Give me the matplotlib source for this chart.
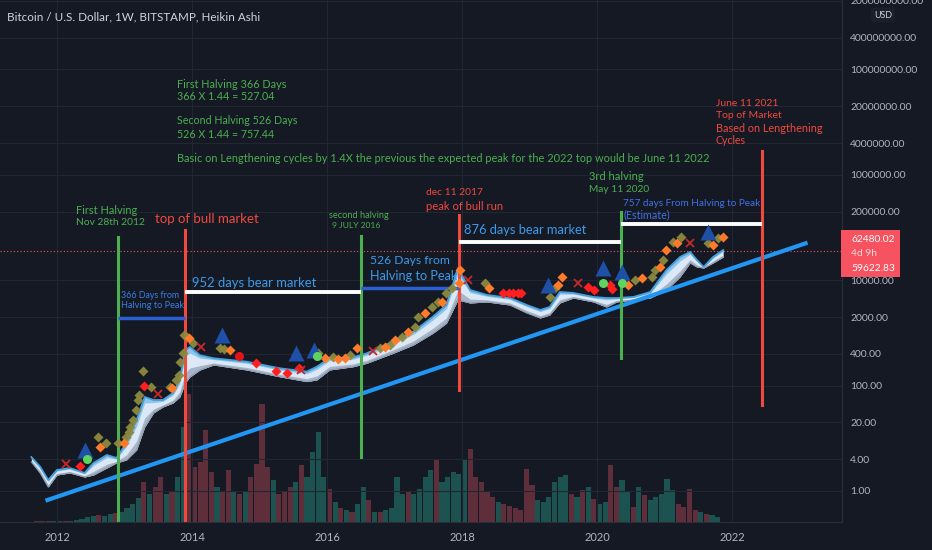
import matplotlib
matplotlib.use('Agg')
import matplotlib.pyplot as plt
import matplotlib.font_manager as fm
from matplotlib.patches import Rectangle
import numpy as np

_names = {f.name for f in fm.fontManager.ttflist}
FONT = 'Liberation Sans Narrow' if 'Liberation Sans Narrow' in _names else 'Lato'
plt.rcParams['font.family'] = [FONT, 'DejaVu Sans']

# ---------------- data ----------------
years_band = [2011.62, 2011.75, 2011.87, 2012.00, 2012.19, 2012.41, 2012.54, 2012.74, 2012.88, 2013.03,
              2013.18, 2013.30, 2013.43, 2013.57, 2013.72, 2013.82, 2013.90, 2013.97, 2014.12, 2014.32,
              2014.81, 2015.30, 2015.70, 2015.85, 2016.04, 2016.39, 2016.59, 2016.98, 2017.28, 2017.57,
              2017.77, 2017.94, 2018.12, 2018.37, 2018.71, 2018.96, 2019.16, 2019.30, 2019.45, 2019.65,
              2019.95, 2020.14, 2020.29, 2020.54, 2020.79, 2021.03, 2021.23, 2021.38, 2021.48, 2021.58,
              2021.72, 2021.87]
price_top = [4.42, 2.89, 1.62, 2.50, 2.73, 2.20, 3.40, 4.82, 4.23, 8.14,
             22.2, 60.8, 53.3, 53.3, 72.4, 128, 474, 540, 376, 330,
             284, 213, 184, 228, 330, 344, 410, 681, 1054, 2030,
             3380, 17000, 6520, 5240, 4590, 3380, 2720, 3100, 5970, 5720,
             4800, 4590, 4590, 4800, 5970, 15600, 27500, 34300, 24200, 17800,
             27500, 37400]
ribbon_low = [3.55, 2.20, 1.19, 2.01, 2.20, 1.84, 2.01, 2.73, 3.40, 3.88,
              6.00, 16.4, 30.2, 39.3, 46.7, 60.8, 112, 146, 198, 246,
              198, 147, 119, 128, 198, 228, 265, 410, 589, 983,
              1521, 4210, 3690, 3860, 3380, 2390, 1918, 2186, 3690, 4590,
              3860, 3100, 3860, 4210, 4590, 6520, 11500, 21200, 17800, 17000,
              21200, 27500]

olive_x = [2012.61, 2012.73, 2012.91, 2013.03, 2013.06, 2013.08, 2013.13, 2013.17, 2013.20, 2013.22,
           2013.27, 2013.40, 2013.67, 2013.77, 2013.81, 2013.83, 2013.86, 2013.88, 2013.92, 2014.02,
           2014.41, 2014.47, 2015.87, 2016.09, 2016.34, 2016.79, 2016.93, 2017.11, 2017.30, 2017.35,
           2017.55, 2017.65, 2017.77, 2017.85, 2018.34, 2019.30, 2019.38, 2020.56, 2020.81, 2020.86,
           2020.98, 2021.13, 2021.25, 2021.65, 2021.80]
olive_y = [10.7, 8.04, 8.04, 10.7, 13.3, 16.6, 22.2, 34.4, 53.3, 66.3,
           192, 92.9, 92.9, 128, 159, 284, 410, 912, 847, 635,
           510, 489, 410, 344, 381, 510, 589, 847, 1312, 2030,
           3140, 3910, 5640, 7020, 8730, 4860, 7020, 10100, 11650, 15600,
           24200, 53800, 65200, 50100, 62400]
orange_x = [2012.64, 2012.99, 2013.71, 2013.95, 2014.56, 2015.97, 2016.17, 2016.27, 2016.44, 2016.86,
            2017.01, 2017.20, 2017.45, 2017.70, 2017.95, 2017.97, 2018.40, 2019.43, 2019.48, 2020.46,
            2020.66, 2020.93, 2021.03, 2021.18, 2021.72, 2021.87]
orange_y = [6.93, 8.25, 91.2, 790, 474, 330, 316, 330, 510, 533,
            733, 1054, 2350, 3910, 8730, 15600, 7020, 8110, 11650, 8110,
            10900, 18000, 37400, 50100, 46500, 66900]
red_dia_x = [2012.34, 2013.29, 2014.95, 2015.24, 2015.41, 2015.59, 2018.61, 2018.69, 2018.76, 2018.83,
             2018.88, 2019.87, 2019.95, 2020.19, 2020.22]
red_dia_y = [3.02, 98.3, 272, 192, 171, 213, 5790, 5790, 5790, 5790,
             5790, 7530, 6520, 8110, 6720]
red_dot_x = [2014.69]
red_dot_y = [365]
red_x_x = [2012.13, 2013.50, 2014.13, 2015.61, 2016.68, 2018.09, 2019.72, 2021.38]
red_x_y = [3.25, 69.3, 547, 198, 459, 10100, 8730, 50100]
tri_x = [2012.41, 2014.44, 2015.54, 2015.81, 2019.28, 2020.09, 2020.37, 2021.65]
tri_y = [6.00, 912, 421, 474, 8110, 16800, 14500, 83200]
green_dot_x = [2012.45, 2015.85, 2020.09, 2020.37]
green_dot_y = [4.0, 365, 8970, 8970]

# volume (monthly, arbitrary units), starting Sept 2011
vol_start = 2011.667
volume = [1, 1, 1, 1, 1, 1, 1, 2, 3, 5, 6, 7, 6, 8, 9, 10, 14, 18, 24, 40,
          28, 35, 45, 28, 30, 45, 95, 128, 55, 60, 92, 50, 35, 30, 52, 30, 28, 30, 45, 58,
          118, 55, 42, 28, 30, 35, 40, 57, 45, 70, 90, 45, 33, 20, 14, 12, 10, 18, 35, 22,
          10, 10, 12, 14, 45, 28, 30, 28, 33, 45, 52, 63, 40, 45, 50, 48, 63, 73, 45, 40,
          30, 25, 20, 18, 16, 14, 12, 53, 37, 22, 20, 25, 40, 45, 47, 28, 25, 32, 35, 23,
          18, 20, 57, 35, 42, 30, 15, 35, 27, 22, 25, 28, 43, 32, 18, 15, 33, 12, 10, 8,
          7, 5]
vol_dir = ("rrrttrtttttrttrttttr" "trrtrttrrrrrtrrtrtrr" "rrtrrrtrttttrtrtrttr"
           "trttttrttttrtttttrrr" "rrtrrrrrrttttttrtrtr" "ttrrttrtrtttttrrrrtr" "tt")

# annotation lines
halving_x = [2012.90, 2016.50, 2020.36]
halving_top = [66000, 69000, 196800]
halving_bot = [0.26, 4.4, 334]
peak_x = [2013.90, 2017.95, 2022.45]
peak_top = [89700, 172600, 2.83e6]
peak_bot = [0.26, 82.5, 42.9]
blue_seg = [(2012.90, 2013.90, 1945), (2016.50, 2017.95, 7110)]
white_seg = [(2013.90, 2016.50, 5890), (2017.95, 2020.36, 53800), (2020.36, 2022.45, 116500)]
trend_x = [2011.83, 2023.12]
trend_y = [0.655, 51500]
last_price_line = 35800

y_ticks = [1, 4, 20, 100, 400, 2000, 10000, 200000, 1e6, 4e6, 2e7, 1e8, 4e8, 2e9]
x_ticks = [2012, 2014, 2016, 2018, 2020, 2022]

# ---------------- style ----------------
BG = '#151924'
GRID = '#222633'
AXC = '#b2b5be'
GREEN = '#4caf50'
RED = '#f0493e'
BLUE_T = '#3d9be9'
BLUE_S = '#3b7fe0'
INDIGO = '#4170e6'
W, H = 932, 550

fig = plt.figure(figsize=(W / 100, H / 100), dpi=100, facecolor=BG)
renderer = fig.canvas.get_renderer()
rect = [0, 28 / H, 842 / W, 522 / H]
vax = fig.add_axes(rect)
ax = fig.add_axes(rect)


def fitted_size(s, target_w, base=10.0):
    t = fig.text(0, 0, s, fontsize=base)
    w = t.get_window_extent(renderer).width
    t.remove()
    return base * target_w / w


# volume
vax.set_facecolor(BG)
vx = vol_start + np.arange(len(volume)) / 12.0
vcol = ['#1c5351' if c == 't' else '#5e2f3b' for c in vol_dir[:len(volume)]]
vax.bar(vx, volume, width=1 / 12 * 0.9, color=vcol, lw=0, align='edge')
vax.set_ylim(0, 522)
vax.set_xlim(2011.156, 2023.63)
vax.axis('off')

ax.patch.set_visible(False)
ax.set_yscale('log')
ax.set_xlim(2011.156, 2023.63)
ax.set_ylim(0.258, 2.07e9)

for y in y_ticks:
    ax.axhline(y, color=GRID, lw=0.8, zorder=0)
for x in x_ticks:
    ax.axvline(x, color=GRID, lw=0.8, zorder=0)

# ribbon (shaded layers between the price and the lower ribbon edge)
yb = np.array(years_band)
top = np.array(price_top)
low = np.array(ribbon_low)
lowmid = low ** 0.7 * top ** 0.3
upstripe = low ** 0.2 * top ** 0.8
ax.fill_between(yb, low, top, color='#dce8f5', lw=0, zorder=3)
ax.fill_between(yb, upstripe, top, color='#8cc4ec', lw=0, zorder=3.05)
ax.fill_between(yb, low, lowmid, color='#a7b5c7', lw=0, zorder=3.1)
ax.plot(yb, top, color='#45a0dc', lw=1.3, zorder=3.2)
ax.plot(yb, low, color='#8e9bb0', lw=0.8, zorder=3.2)

# price line
ax.axhline(last_price_line, color='#f7525f', lw=0.8, ls=(0, (1, 2)), zorder=2)

# trend line
ax.plot(trend_x, trend_y, color='#2196f3', lw=3, zorder=4, solid_capstyle='butt')

# vertical lines
for x, t, b in zip(halving_x, halving_top, halving_bot):
    ax.plot([x, x], [b, t], color=GREEN, lw=2.2, zorder=4)
for x, t, b in zip(peak_x, peak_top, peak_bot):
    ax.plot([x, x], [b, t], color=RED, lw=2.2, zorder=4)
for x0, x1, y in blue_seg:
    ax.plot([x0, x1], [y, y], color='#2b5fd4', lw=2.5, zorder=4, solid_capstyle='butt')
for x0, x1, y in white_seg:
    ax.plot([x0, x1], [y, y], color='#ffffff', lw=2.8, zorder=4, solid_capstyle='butt')

# markers
ax.plot(olive_x, olive_y, 'D', color='#8c8a3e', ms=5.5, mec='none', alpha=0.95, zorder=5)
ax.plot(orange_x, orange_y, 'D', color='#ff7b29', ms=5, mec='none', zorder=5.1)
ax.plot(red_dia_x, red_dia_y, 'D', color='#ff1f1f', ms=5.5, mec='none', zorder=5.1)
ax.plot(red_dot_x, red_dot_y, 'o', color='#e01515', ms=6.5, mec='none', zorder=5.1)
ax.plot(red_x_x, red_x_y, 'x', color='#c62828', ms=6, mew=1.3, zorder=5.1)
ax.plot(tri_x, tri_y, '^', color='#1e50a8', ms=11, mec='none', zorder=5.2)
ax.plot(green_dot_x, green_dot_y, 'o', color='#5fd35f', ms=6.5, mec='none', zorder=5.2)

# axes styling
ysz = fitted_size('400000000.00', 68)
xsz = fitted_size('2012', 26)
ax.yaxis.tick_right()
ax.set_yticks(y_ticks)
ax.set_yticklabels(['%.2f' % v for v in y_ticks])
ax.yaxis.set_minor_locator(matplotlib.ticker.NullLocator())
ax.set_xticks(x_ticks)
ax.set_xticklabels([str(x) for x in x_ticks])
ax.tick_params(axis='y', length=0, pad=6, labelcolor=AXC, labelsize=ysz)
ax.tick_params(axis='x', length=0, pad=7, labelcolor=AXC, labelsize=xsz)
for s in ['top', 'left']:
    ax.spines[s].set_visible(False)
ax.spines['right'].set_color('#2a2e39')
ax.spines['bottom'].set_color('#2a2e39')

# texts (figure pixel positions, target widths)
texts = [
    (7, 17, 'Bitcoin / U.S. Dollar, 1W, BITSTAMP, Heikin Ashi', '#d1d4dc', 252),
    (177, 85, 'First Halving 366 Days', GREEN, 108),
    (177, 96.7, '366 X 1.44 = 527.04', GREEN, 97),
    (177, 120.7, 'Second Halving 526 Days', GREEN, 120),
    (177, 134, '526 X 1.44 = 757.44', GREEN, 97),
    (177, 158.7, 'Basic on Lengthening cycles by 1.4X the previous the expected peak for the 2022 top would be June 11 2022', GREEN, 533),
    (76, 210.7, 'First Halving', GREEN, 61),
    (76, 222.3, 'Nov 28th 2012', GREEN, 69),
    (155, 219.3, 'top of bull market', RED, 104),
    (121, 295, '366 Days from', BLUE_S, 58),
    (121, 305.7, 'Halving to Peak', BLUE_S, 63),
    (192, 283.3, '952 days bear market', BLUE_T, 124),
    (329, 216, 'second halving', GREEN, 60),
    (332, 225.7, '9 JULY 2016', GREEN, 48),
    (370, 260.7, '526 Days from', BLUE_T, 80),
    (370, 276, 'Halving to Peak', BLUE_T, 87),
    (426, 193, 'dec 11 2017', RED, 57),
    (426, 206, 'peak of bull run', RED, 77),
    (464, 230, '876 days bear market', BLUE_T, 123),
    (589, 177, '3rd halving', GREEN, 54),
    (589, 189, 'May 11 2020', GREEN, 60),
    (623, 204, '757 days From Halving to Peak', INDIGO, 137),
    (623, 215, '(Estimate)', INDIGO, 47),
    (716, 103.3, 'June 11 2021', RED, 63),
    (716, 115, 'Top of Market', RED, 66),
    (716, 128.3, 'Based on Lengthening', RED, 106),
    (716, 140, 'Cycles', RED, 30),
]
for x, y, s, c, tw in texts:
    fig.text(x / W, 1 - y / H, s, color=c, fontsize=fitted_size(s, tw), ha='left', va='center')

# last price box
fig.patches.append(Rectangle((841 / W, 1 - 277 / H), 59 / W, 47 / H, transform=fig.transFigure,
                             facecolor='#f7525f', edgecolor='none', zorder=10))
psz = fitted_size('62480.02', 44)
fig.text(851 / W, 1 - 239 / H, '62480.02', color='white', fontsize=psz, ha='left', va='center', zorder=11)
fig.text(851 / W, 1 - 253.5 / H, '4d 9h', color='#ffd6d6', fontsize=psz, ha='left', va='center', zorder=11)
fig.text(851 / W, 1 - 269 / H, '59622.83', color='white', fontsize=psz, ha='left', va='center', zorder=11)

fig.text(883 / W, 1 - 15 / H, 'USD', color='#d1d4dc', fontsize=fitted_size('USD', 18), ha='center', va='center',
         bbox=dict(boxstyle='round,pad=0.35', fc='#1b1f2b', ec='none'))

fig.savefig('out.png', dpi=100, facecolor=BG)
